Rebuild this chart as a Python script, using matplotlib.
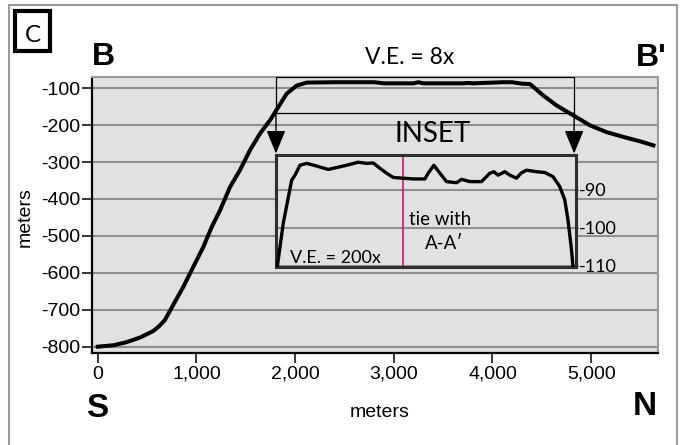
import matplotlib
matplotlib.use("Agg")
import matplotlib.pyplot as plt
from matplotlib.patches import Rectangle

# Main profile B-B' (distance along section, elevation in meters)
dist = [0, 160, 290, 430, 560, 620, 680, 732, 800, 867, 968, 1070, 1155, 1239,
        1340, 1441, 1543, 1644, 1746, 1830, 1915, 2016, 2117, 2400, 2800, 2900,
        3200, 3250, 3300, 3700, 3750, 3800, 4000, 4100, 4200, 4300, 4380, 4515,
        4650, 4820, 4990, 5155, 5325, 5495, 5630]
elev = [-800, -796, -788, -775, -758, -745, -728, -703, -670, -638, -584, -530,
        -476, -431, -368, -322, -268, -223, -187, -151, -115, -93, -85, -84, -84,
        -87, -87, -84, -87, -87, -86, -87, -85, -84, -84, -88, -89, -120, -147,
        -174, -201, -219, -232, -244, -255]

# Inset profile (V.E. = 200x)
inset_dist = [1819, 1880, 1965, 1999, 2049, 2117, 2218, 2336, 2421, 2522, 2640,
              2725, 2792, 2860, 2928, 2994, 3090, 3197, 3316, 3349, 3407, 3468,
              3535, 3637, 3687, 3771, 3890, 3974, 4014, 4058, 4126, 4177, 4244,
              4295, 4346, 4447, 4531, 4615, 4683, 4734, 4767, 4802, 4818]
inset_elev = [-110.2, -98.7, -87.4, -86.1, -83.5, -83.0, -83.7, -84.6, -84.1,
              -83.5, -82.7, -83.0, -82.9, -84.3, -85.6, -86.7, -86.9, -87.1,
              -87.1, -85.6, -83.5, -85.6, -87.8, -88.1, -87.2, -87.8, -87.8,
              -85.6, -85.2, -86.1, -85.2, -86.1, -86.9, -85.5, -84.8, -85.2,
              -85.4, -86.5, -89.1, -92.6, -97.9, -105.7, -110.2]
tie_dist = 3090

xticks = [0, 1000, 2000, 3000, 4000, 5000]
xtick_labels = ["0", "1,000", "2,000", "3,000", "4,000", "5,000"]
yticks = [-100, -200, -300, -400, -500, -600, -700, -800]
inset_yticks = [-90, -100, -110]

W, H = 684, 445


def fx(px):
    return px / W


def fy(py):
    return 1 - py / H


SANS = ["Liberation Sans", "DejaVu Sans"]
HUM = ["Lato", "DejaVu Sans"]
GRID = "#8f8f8f"
BG = "#e1e1e1"

fig = plt.figure(figsize=(W / 100, H / 100), dpi=100)

# outer frame and panel letter
fig.patches.append(Rectangle((fx(9), -0.02), fx(677) - fx(9), fy(5) + 0.02,
                             transform=fig.transFigure, fill=False,
                             edgecolor="#9a9a9a", lw=1.5))
fig.patches.append(Rectangle((fx(15), fy(51)), fx(50) - fx(15), fy(11) - fy(51),
                             transform=fig.transFigure, fill=False,
                             edgecolor="black", lw=3))
fig.text(fx(32.5), fy(41.5), "C", ha="center", va="baseline", fontsize=17.5,
         family=HUM)

# main axes
left, right, top, bottom = 91.7, 657.7, 76.5, 352.5
ax = fig.add_axes([fx(left), fy(bottom), fx(right) - fx(left), fy(top) - fy(bottom)])
ax.set_facecolor(BG)
ax.set_xlim(-61, 5674)
ax.set_ylim(-815.7, -68.5)
for y in yticks:
    ax.axhline(y, color=GRID, lw=1.5, zorder=1)
ax.plot(dist, elev, color="black", lw=2.9, solid_joinstyle="round", zorder=3)

ax.set_xticks(xticks)
ax.set_xticklabels(xtick_labels, family=SANS, fontsize=14)
ax.set_yticks(yticks)
ax.set_yticklabels([str(y) for y in yticks], family=SANS, fontsize=14)
ax.tick_params(axis="x", length=7, width=1.1, pad=2.5, color="black")
ax.tick_params(axis="y", length=7, width=1.1, pad=1.5, color="black")
for side in ["left", "bottom"]:
    ax.spines[side].set_linewidth(1.6)
    ax.spines[side].set_color("black")
for side in ["top", "right"]:
    ax.spines[side].set_linewidth(1.5)
    ax.spines[side].set_color("#9a9a9a")

# box marking the inset area and arrows down to it
x0, x1 = 1806, 4827
ax.add_patch(Rectangle((x0, -166.5), x1 - x0, 96.5, fill=False,
                       edgecolor="black", lw=0.9, zorder=4))
for xa in [x0, x1]:
    ax.annotate("", xy=(xa, -277), xytext=(xa, -166.5),
                arrowprops=dict(arrowstyle="-|>,head_length=0.8,head_width=0.33",
                                mutation_scale=18, color="black", lw=1.0,
                                shrinkA=0, shrinkB=0), zorder=4)

# inset axes
il, ir, it, ib = 276, 575.7, 155, 267.3
axin = fig.add_axes([fx(il), fy(ib), fx(ir) - fx(il), fy(it) - fy(ib)])
axin.set_facecolor(BG)
axin.set_xlim(1806, 4845)
axin.set_ylim(-110.35, -80.8)
for y in inset_yticks:
    axin.axhline(y, color=GRID, lw=1.5, zorder=1)
axin.axvline(tie_dist, color="#d4006a", lw=1.1, zorder=2)
axin.plot(inset_dist, inset_elev, color="black", lw=2.4, zorder=3)
axin.set_xticks([])
axin.yaxis.tick_right()
axin.set_yticks(inset_yticks)
axin.set_yticklabels([str(y) for y in inset_yticks], family=HUM, fontsize=13)
axin.tick_params(axis="y", length=2, width=1.5, color=GRID, pad=0.5)
for s in axin.spines.values():
    s.set_linewidth(2.2)
    s.set_color("#2e2e2e")
axin.text(fx(335), fy(263.3), "V.E. = 200x", transform=fig.transFigure,
          ha="center", va="baseline", family=HUM, fontsize=13)
axin.text(fx(440), fy(225), "tie with", transform=fig.transFigure,
          ha="center", va="baseline", family=HUM, fontsize=13.5)
axin.text(fx(444), fy(249.3), "A-A\u2032", transform=fig.transFigure,
          ha="center", va="baseline", family=HUM, fontsize=13.5)

# labels around the section
fig.text(fx(433), fy(141.7), "INSET", ha="center", va="baseline", family=HUM, fontsize=20)
fig.text(fx(410), fy(64), "V.E. = 8x", ha="center", va="baseline", family=HUM, fontsize=16.5)
fig.text(fx(92), fy(65), "B", ha="left", va="baseline", family=SANS, fontsize=23, fontweight="bold")
fig.text(fx(667), fy(66), "B'", ha="right", va="baseline", family=SANS, fontsize=23, fontweight="bold")
fig.text(fx(86), fy(417), "S", ha="left", va="baseline", family=SANS, fontsize=24, fontweight="bold")
fig.text(fx(657), fy(415), "N", ha="right", va="baseline", family=SANS, fontsize=24, fontweight="bold")
fig.text(fx(380), fy(417), "meters", ha="center", va="baseline", family=SANS, fontsize=14)
fig.text(fx(25), fy(217), "meters", ha="center", va="center", rotation=90, family=SANS, fontsize=14)

fig.savefig("out.png", dpi=100, facecolor="white")
